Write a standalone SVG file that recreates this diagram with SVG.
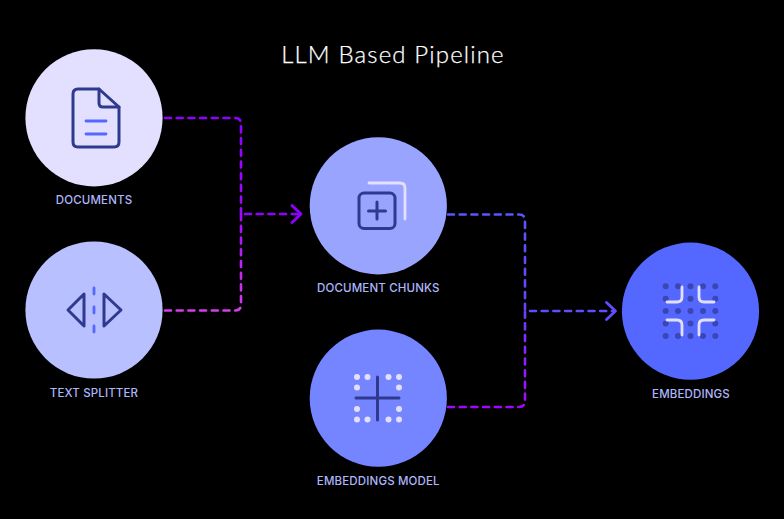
<svg xmlns="http://www.w3.org/2000/svg" width="784" height="519" viewBox="0 0 784 519">
<defs>
<style>
.lbl{font-family:"Inter","Liberation Sans",sans-serif;font-size:11.500px;font-weight:500;fill:#aeb6fa;text-anchor:middle;letter-spacing:0.15px}
.ttl{font-family:"Lato","Liberation Sans",sans-serif;font-size:24px;font-weight:300;fill:#fff;stroke:#fff;stroke-width:0.250px;text-anchor:middle;letter-spacing:1.150px}
.c{fill:none;stroke-width:2.600;stroke-dasharray:6 5.700;stroke-linecap:round;stroke-linejoin:round}
.ah{fill:none;stroke-width:2.800;stroke-linecap:round;stroke-linejoin:round}
.ic{fill:none;stroke:#2f3a8f;stroke-width:3;stroke-linecap:round;stroke-linejoin:round}
.bl{fill:none;stroke:#5468ff;stroke-width:2.800;stroke-linecap:round}
.lt{fill:none;stroke:#e2dfff;stroke-width:2.800;stroke-linecap:round;stroke-linejoin:round}
.dl{fill:#e2dfff}
.dd{fill:#3a46b5}
</style>
<linearGradient id="g1" gradientUnits="userSpaceOnUse" x1="0" y1="118" x2="0" y2="310">
<stop offset="0" stop-color="#8f00ff"/><stop offset="0.5" stop-color="#9f0aff"/><stop offset="1" stop-color="#d63cec"/>
</linearGradient>
<linearGradient id="g2" gradientUnits="userSpaceOnUse" x1="0" y1="214" x2="0" y2="407">
<stop offset="0" stop-color="#5a55ff"/><stop offset="0.5" stop-color="#6a40ff"/><stop offset="1" stop-color="#a505ff"/>
</linearGradient>
</defs>
<rect width="784" height="519" fill="#000"/>
<text class="ttl" x="393" y="63">LLM Based Pipeline</text>
<g id="connectors">
<path class="c" stroke="url(#g1)" d="M165 118H235Q241 118 241 124V214"/>
<path class="c" stroke="url(#g1)" d="M165 310.500H235Q241 310.500 241 304.500V214"/>
<path class="c" stroke="#8f00ff" d="M245 214H299"/>
<path class="ah" stroke="#8f00ff" d="M292 205.500L301 214L292 222.500"/>
<path class="c" stroke="url(#g2)" d="M448 214.500H519Q525 214.500 525 220.500V311"/>
<path class="c" stroke="url(#g2)" d="M448 407H519Q525 407 525 401V311"/>
<path class="c" stroke="#5f4dff" d="M530 311H613"/>
<path class="ah" stroke="#5f4dff" d="M606.500 302.500L615.500 311L606.500 319.500"/>
</g>
<g id="documents">
<circle cx="94" cy="117.800" r="68.600" fill="#e2dfff"/>
<path class="ic" d="M99 89H78Q73 89 73 94V142Q73 147 78 147H114Q119 147 119 142V107Z"/>
<path class="ic" d="M99 89V103Q99 107 103 107H119"/>
<path class="bl" d="M86 121H106M86 134H106"/>
<text class="lbl" x="94" y="203.500">DOCUMENTS</text>
</g>
<g id="text-splitter">
<circle cx="94" cy="310" r="68.600" fill="#b8c0ff"/>
<path class="ic" d="M84 294V326L68 310Z"/>
<path class="ic" d="M104 294V326L121 310Z"/>
<path class="bl" d="M94 288V294M94 307V313M94 326V332"/>
<text class="lbl" x="94" y="396.500">TEXT SPLITTER</text>
</g>
<g id="document-chunks">
<circle cx="378.300" cy="205.800" r="68.600" fill="#99a4ff"/>
<path class="lt" d="M369 183H400Q405 183 405 188V219"/>
<rect class="ic" x="359" y="193" width="36" height="35.500" rx="5"/>
<path class="ic" d="M377 202V219M368.500 211H385.500"/>
<text class="lbl" x="378.300" y="291.500">DOCUMENT CHUNKS</text>
</g>
<g id="embeddings-model">
<circle cx="378.300" cy="398.200" r="68.600" fill="#7585ff"/>
<g class="dl">
<circle cx="357" cy="377" r="3"/><circle cx="367.500" cy="377" r="3"/><circle cx="388.500" cy="377" r="3"/><circle cx="399" cy="377" r="3"/>
<circle cx="357" cy="387.500" r="3"/><circle cx="399" cy="387.500" r="3"/>
<circle cx="357" cy="409" r="3"/><circle cx="399" cy="409" r="3"/>
<circle cx="357" cy="419.500" r="3"/><circle cx="367.500" cy="419.500" r="3"/><circle cx="388.500" cy="419.500" r="3"/><circle cx="399" cy="419.500" r="3"/>
</g>
<path class="ic" d="M377.500 377V420M356 398H399"/>
<text class="lbl" x="378.300" y="484.500">EMBEDDINGS MODEL</text>
</g>
<g id="embeddings">
<circle cx="690.500" cy="311.200" r="68.600" fill="#5468ff"/>
<g class="dd">
<circle cx="665.700" cy="286.300" r="3"/><circle cx="678" cy="286.300" r="3"/><circle cx="690.500" cy="286.300" r="3"/><circle cx="703" cy="286.300" r="3"/><circle cx="715.300" cy="286.300" r="3"/>
<circle cx="665.700" cy="298.700" r="3"/><circle cx="690.500" cy="298.700" r="3"/><circle cx="715.300" cy="298.700" r="3"/>
<circle cx="665.700" cy="311" r="3"/><circle cx="678" cy="311" r="3"/><circle cx="690.500" cy="311" r="3"/><circle cx="703" cy="311" r="3"/><circle cx="715.300" cy="311" r="3"/>
<circle cx="665.700" cy="323.500" r="3"/><circle cx="690.500" cy="323.500" r="3"/><circle cx="715.300" cy="323.500" r="3"/>
<circle cx="665.700" cy="336" r="3"/><circle cx="678" cy="336" r="3"/><circle cx="690.500" cy="336" r="3"/><circle cx="703" cy="336" r="3"/><circle cx="715.300" cy="336" r="3"/>
</g>
<path class="lt" d="M667 302H677Q682 302 682 297V287"/>
<path class="lt" d="M699 287V297Q699 302 704 302H714"/>
<path class="lt" d="M667 320H677Q682 320 682 325V335"/>
<path class="lt" d="M699 335V325Q699 320 704 320H714"/>
<text class="lbl" x="691" y="397.500">EMBEDDINGS</text>
</g>
</svg>
